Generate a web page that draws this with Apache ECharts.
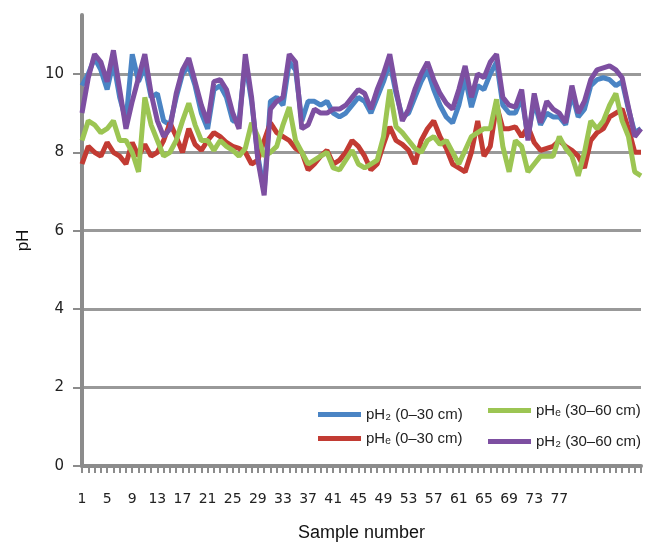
<!DOCTYPE html>
<html>
<head>
<meta charset="utf-8">
<script src="https://cdn.jsdelivr.net/npm/echarts@6/dist/echarts.min.js"></script>
<style>html,body{margin:0;padding:0;background:#fff}#c{width:647px;height:544px}</style>
</head>
<body>
<div id="c"></div>
<script>
var categories = [];
for (var k = 1; k <= 90; k++) categories.push(String(k));
var yTicks = [0, 2, 4, 6, 8, 10];
var lastLabel = 77;

var pH2_0_30 = [9.7,10.0,10.4,10.1,9.6,10.3,9.4,8.8,10.5,9.8,10.2,9.4,9.5,8.8,8.7,9.4,10.0,10.2,9.7,9.0,8.6,9.6,9.7,9.4,8.8,8.8,10.3,9.3,7.9,7.0,9.3,9.4,9.2,10.3,10.1,8.8,9.3,9.3,9.2,9.3,9.0,8.9,9.0,9.2,9.4,9.3,9.0,9.4,9.8,10.3,9.5,8.9,9.0,9.4,9.8,10.1,9.6,9.2,8.9,8.75,9.2,9.9,9.15,9.7,9.6,10.0,10.3,9.2,9.0,9.0,9.4,8.4,9.3,8.7,9.0,8.9,8.9,8.7,9.5,8.9,9.1,9.7,9.85,9.9,9.85,9.7,9.8,9.1,8.5,8.6];
var pHe_0_30 = [7.7,8.15,8.0,7.9,8.25,8.0,7.9,7.7,8.25,7.9,8.2,7.9,8.0,8.3,8.75,8.4,8.0,8.6,8.2,8.05,8.3,8.5,8.4,8.25,8.15,8.1,8.0,7.7,7.8,8.3,8.75,8.5,8.4,8.3,8.1,8.0,7.55,7.7,7.9,8.05,7.7,7.8,8.0,8.3,8.15,7.9,7.55,7.7,8.2,8.65,8.3,8.2,8.05,7.7,8.3,8.6,8.8,8.4,8.1,7.7,7.6,7.5,8.0,8.8,7.9,8.15,9.2,8.6,8.6,8.65,8.4,8.65,8.25,8.05,8.1,8.15,8.3,8.15,8.05,7.9,7.6,8.3,8.5,8.6,8.9,9.0,9.1,8.6,8.0,8.0];
var pHe_30_60 = [8.3,8.8,8.7,8.5,8.6,8.8,8.3,8.3,8.0,7.5,9.4,8.7,8.3,7.9,8.0,8.3,8.8,9.25,8.7,8.3,8.3,8.05,8.3,8.15,8.05,7.9,8.1,8.75,8.4,7.9,8.0,8.15,8.7,9.15,8.3,8.0,7.7,7.8,7.9,8.0,7.6,7.55,7.8,8.05,7.7,7.6,7.7,7.8,8.4,9.6,8.65,8.5,8.3,8.1,8.0,8.3,8.4,8.2,8.3,8.0,7.7,8.05,8.4,8.5,8.6,8.6,9.35,8.15,7.5,8.3,8.15,7.5,7.7,7.9,7.9,7.9,8.4,8.1,7.9,7.4,8.0,8.8,8.6,8.8,9.2,9.5,8.8,8.4,7.5,7.4];
var pH2_30_60 = [9.0,9.9,10.5,10.3,9.8,10.6,9.6,8.6,9.3,9.9,10.5,9.5,8.8,8.4,8.6,9.5,10.1,10.4,9.8,9.2,8.75,9.8,9.85,9.6,9.0,8.6,10.5,9.4,7.8,6.9,9.1,9.3,9.4,10.5,10.3,8.6,8.7,9.1,9.0,9.0,9.1,9.1,9.2,9.4,9.6,9.5,9.1,9.6,10.0,10.5,9.6,8.8,9.1,9.6,10.0,10.3,9.85,9.5,9.25,9.1,9.6,10.2,9.4,10.0,9.9,10.3,10.5,9.4,9.2,9.15,9.6,8.3,9.5,8.75,9.3,9.1,9.0,8.75,9.7,9.0,9.3,9.85,10.1,10.15,10.2,10.1,9.9,9.15,8.4,8.6];

var seriesNames = ['pH\u2082 (0\u201330 cm)', 'pH\u2091 (0\u201330 cm)', 'pH\u2091 (30\u201360 cm)', 'pH\u2082 (30\u201360 cm)'];
var seriesColors = ['#4a84c4', '#c23b33', '#9cc553', '#7d4fa1'];
var seriesData = [pH2_0_30, pHe_0_30, pHe_30_60, pH2_30_60];

var chart = echarts.init(document.getElementById('c'), null, {renderer: 'canvas'});
var series = seriesData.map(function (d, i) {
  return {
    name: seriesNames[i], type: 'line', data: d, symbol: 'none', smooth: false,
    lineStyle: {width: 5, color: seriesColors[i]}, itemStyle: {color: seriesColors[i]},
    emphasis: {disabled: true}, animation: false
  };
});
var legendText = {fontFamily: 'Liberation Sans, Arial, sans-serif', fontSize: 15, color: '#222'};
chart.setOption({
  backgroundColor: '#fff',
  animation: false,
  grid: {left: 82, right: 6, top: 15, bottom: 78, containLabel: false, outerBoundsMode: 'none'},
  legend: [
    {data: [seriesNames[0], seriesNames[1]], orient: 'vertical', left: 313, top: 402,
     icon: 'rect', itemWidth: 43, itemHeight: 5, itemGap: 9, textStyle: legendText},
    {data: [seriesNames[2], seriesNames[3]], orient: 'vertical', left: 483, top: 398,
     icon: 'rect', itemWidth: 43, itemHeight: 5, itemGap: 16, textStyle: legendText}
  ],
  xAxis: {
    type: 'category', data: categories, boundaryGap: false,
    name: 'Sample number', nameLocation: 'middle', nameGap: 58,
    nameTextStyle: {fontFamily: 'Liberation Sans, Arial, sans-serif', fontSize: 18, color: '#111'},
    axisLine: {lineStyle: {color: '#8c8c8c', width: 4}},
    axisTick: {show: true, interval: 0, length: 7, lineStyle: {color: '#8c8c8c', width: 2}},
    axisLabel: {interval: 3, margin: 26, fontFamily: 'DejaVu Sans, sans-serif', fontSize: 14, color: '#222',
      formatter: function (v) { return (+v) <= lastLabel ? v : ''; }},
    splitLine: {show: false}
  },
  yAxis: {
    type: 'value', min: 0, max: 11.5, interval: 2,
    name: 'pH', nameLocation: 'middle', nameGap: 50, nameRotate: 90,
    nameTextStyle: {fontFamily: 'Liberation Sans, Arial, sans-serif', fontSize: 17, color: '#111'},
    axisLine: {show: true, lineStyle: {color: '#8c8c8c', width: 4}},
    axisTick: {show: true, length: 9, customValues: yTicks, lineStyle: {color: '#8c8c8c', width: 2}},
    axisLabel: {margin: 18, customValues: yTicks, fontFamily: 'DejaVu Sans, sans-serif', fontSize: 15, color: '#222'},
    splitLine: {show: true, lineStyle: {color: ['#999','#999','#999','#999','#999','#999','rgba(0,0,0,0)'], width: 3}}
  },
  series: series
});
</script>
</body>
</html>
